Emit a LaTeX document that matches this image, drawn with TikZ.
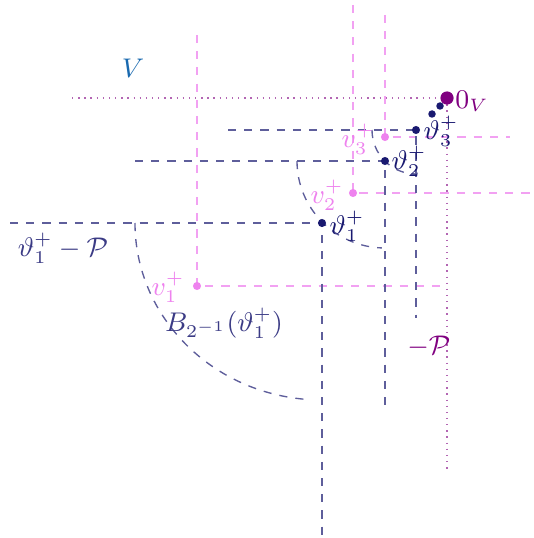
\documentclass[tikz,border=0pt]{standalone}
\usepackage{amsmath}
\definecolor{midnight}{RGB}{25,25,112}
\definecolor{pinkv}{RGB}{238,130,238}
\definecolor{purp}{RGB}{128,0,128}
\definecolor{vblue}{RGB}{25,105,175}
\tikzset{
  cone/.style={draw=midnight!70!white, line width=0.45pt, dash pattern=on 2.7pt off 2.7pt},
  pcone/.style={draw=pinkv!75!white, line width=0.5pt, dash pattern=on 2.7pt off 2.7pt},
  dotline/.style={draw=purp!60!white, line width=0.5pt, dash pattern=on 0.45pt off 1.6pt},
  tdot/.style={circle, fill=midnight, inner sep=0pt, minimum size=2.7pt},
  vdot/.style={circle, fill=pinkv, inner sep=0pt, minimum size=2.7pt},
  lab/.style={inner sep=0pt, anchor=center, font=\fontsize{9}{11}\selectfont},
}
\begin{document}
\begin{tikzpicture}[x=0.33333pt,y=-0.33333pt]
\useasboundingbox (0,0) rectangle (534,538);
% coordinates
\coordinate (o) at (447,98);
\coordinate (t1) at (322,223);
\coordinate (t2) at (385,161);
\coordinate (t3) at (416,130);
\coordinate (w1) at (197,286);
\coordinate (w2) at (353,193);
\coordinate (w3) at (385,137);
% endpoints
\coordinate (Vl) at (72,98);
\coordinate (Vd) at (447,470);
\coordinate (t1l) at (10,223);
\coordinate (t1d) at (322,535);
\coordinate (t2l) at (135,161);
\coordinate (t2d) at (385,410);
\coordinate (t3l) at (228,130);
\coordinate (t3d) at (416,318);
\coordinate (w1u) at (197,35);
\coordinate (w1r) at (447,286);
\coordinate (w2u) at (353,5);
\coordinate (w2r) at (534,193);
\coordinate (w3u) at (385,15);
\coordinate (w3r) at (510,137);
\coordinate (a1) at (135,223);
\coordinate (a2) at (297,161);
\coordinate (a3) at (372,130);
% pink cones
\draw[pcone] (w1u) -- (w1) -- (w1r);
\draw[pcone] (w2u) -- (w2) -- (w2r);
\draw[pcone] (w3u) -- (w3) -- (w3r);
% dotted lines
\draw[dotline] (Vl) -- (o) -- (Vd);
% navy cones
\draw[cone] (t1l) -- (t1) -- (t1d);
\draw[cone] (t2l) -- (t2) -- (t2d);
\draw[cone] (t3l) -- (t3) -- (t3d);
% arcs
\draw[cone] (a1) arc[start angle=180, end angle=266, x radius=62.33pt, y radius=59pt];
\draw[cone] (a2) arc[start angle=180, end angle=268, x radius=29.33pt, y radius=29pt];
\draw[cone] (a3) arc[start angle=180, end angle=270, x radius=14.67pt, y radius=14.67pt];
% dots
\node[vdot] (p1) at (w1) {};
\node[vdot] (p2) at (w2) {};
\node[vdot] (p3) at (w3) {};
\node[tdot] (d1) at (t1) {};
\node[tdot] (d2) at (t2) {};
\node[tdot] (d3) at (t3) {};
\node[tdot, minimum size=2.5pt] (d4) at (432,114) {};
\node[tdot, minimum size=2.5pt] (d5) at (440,106) {};
\node[circle, fill=purp, inner sep=0pt, minimum size=4.4pt] (zero) at (o) {};
% labels
\node[lab, text=vblue] (lV) at (133,68) {$V$};
\node[lab, text=purp] (l0) at (472,101) {$0_V$};
\node[lab, text=midnight] (l3) at (441,131) {$\vartheta_3^+$};
\node[lab, text=midnight] (l2) at (409,161) {$\vartheta_2^+$};
\node[lab, text=midnight] (l1) at (347,226) {$\vartheta_1^+$};
\node[lab, text=pinkv] (m3) at (358,139) {$v_3^+$};
\node[lab, text=pinkv] (m2) at (327,195) {$v_2^+$};
\node[lab, text=pinkv] (m1) at (168,287) {$v_1^+$};
\node[lab, text=midnight!85!white] (lc) at (63,248) {$\vartheta_1^+-\mathcal{P}$};
\node[lab, text=midnight!85!white] (lb) at (224,323) {$B_{2^{-1}}(\vartheta_1^+)$};
\node[lab, text=purp] (lp) at (429,347) {$-\mathcal{P}$};
\end{tikzpicture}
\end{document}
